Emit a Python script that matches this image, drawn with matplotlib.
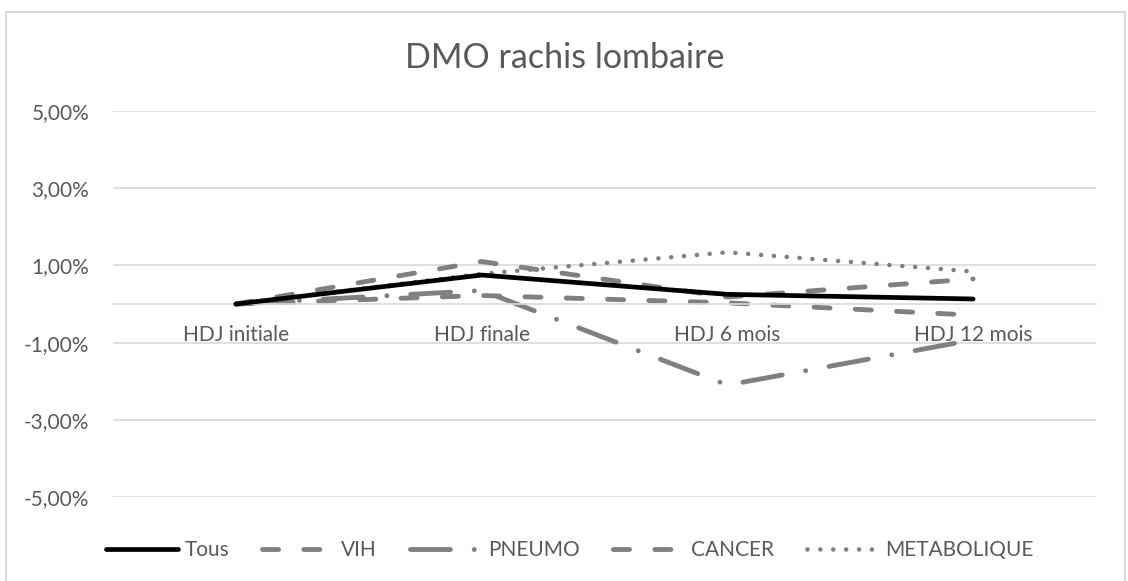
import matplotlib
matplotlib.use("Agg")
import matplotlib.pyplot as plt
from matplotlib.patches import Rectangle
from matplotlib.ticker import FuncFormatter

# Donnees
categories = ['HDJ initiale', 'HDJ finale', 'HDJ 6 mois', 'HDJ 12 mois']
tous = [0.0, 0.0075, 0.0025, 0.0013]
vih = [0.0, 0.0110, 0.0018, 0.0065]
pneumo = [0.0, 0.0035, -0.0210, -0.0093]
cancer = [0.0, 0.0022, 0.0003, -0.0029]
metabolique = [0.0, 0.0078, 0.0134, 0.0084]
yticks = [-0.05, -0.03, -0.01, 0.01, 0.03, 0.05]

GRIS = '#808080'
TEXTE = '#595959'
plt.rcParams['font.family'] = ['Lato', 'DejaVu Sans']

fig = plt.figure(figsize=(11.28, 5.81), dpi=100)
ax = fig.add_axes([113/1128, 1-497/581, 983/1128, 386/581])

x = range(len(categories))
ax.plot(x, tous, color='black', lw=3.4, solid_capstyle='round', label='Tous', zorder=5)
ax.plot(x, vih, color=GRIS, lw=3.5, dash_capstyle='round',
        linestyle=(0, (3.3, 5.2)), label='VIH')
ax.plot(x, pneumo, color=GRIS, lw=3.5, dash_capstyle='round',
        linestyle=(0, (8.2, 4.9, 0.01, 4.9)), label='PNEUMO')
ax.plot(x, cancer, color=GRIS, lw=3.5, dash_capstyle='round',
        linestyle=(0, (3.3, 5.2)), label='CANCER')
ax.plot(x, metabolique, color=GRIS, lw=3.3, dash_capstyle='round',
        linestyle=(0, (0.01, 2.8)), label='METABOLIQUE')

ax.set_xlim(-0.5, 3.5)
ax.set_ylim(-0.05, 0.05)
ax.set_yticks(yticks)
ax.yaxis.set_major_formatter(FuncFormatter(lambda v, p: f'{v*100:.2f}%'.replace('.', ',')))
ax.grid(axis='y', color='#d9d9d9', lw=1.2)
ax.set_axisbelow(True)

ax.set_xticks(list(x))
ax.set_xticklabels(categories)
for s in ['top', 'right', 'left']:
    ax.spines[s].set_visible(False)
ax.spines['bottom'].set_position(('data', 0))
ax.spines['bottom'].set_color('#d9d9d9')
ax.spines['bottom'].set_linewidth(1.2)
ax.tick_params(axis='x', length=0, pad=15, labelsize=15, labelcolor=TEXTE)
ax.tick_params(axis='y', length=0, pad=17, labelsize=15, labelcolor=TEXTE)

fig.text(565/1128, 1-68/581, 'DMO rachis lombaire', ha='center', va='baseline',
         fontsize=24.5, color=TEXTE)

leg = fig.legend(loc='center', bbox_to_anchor=(570/1128, 1-550/581), ncol=5,
                 frameon=False, fontsize=15, handlelength=3.45, handletextpad=0.3,
                 columnspacing=1.6, labelcolor=TEXTE)

# Cadre du graphique
fig.patches.append(Rectangle((6/1128, -0.05), 1119/1128, 1.05-12/581,
                             transform=fig.transFigure, fill=False,
                             edgecolor='#d9d9d9', lw=1.5))

fig.savefig('out.png', dpi=100)
